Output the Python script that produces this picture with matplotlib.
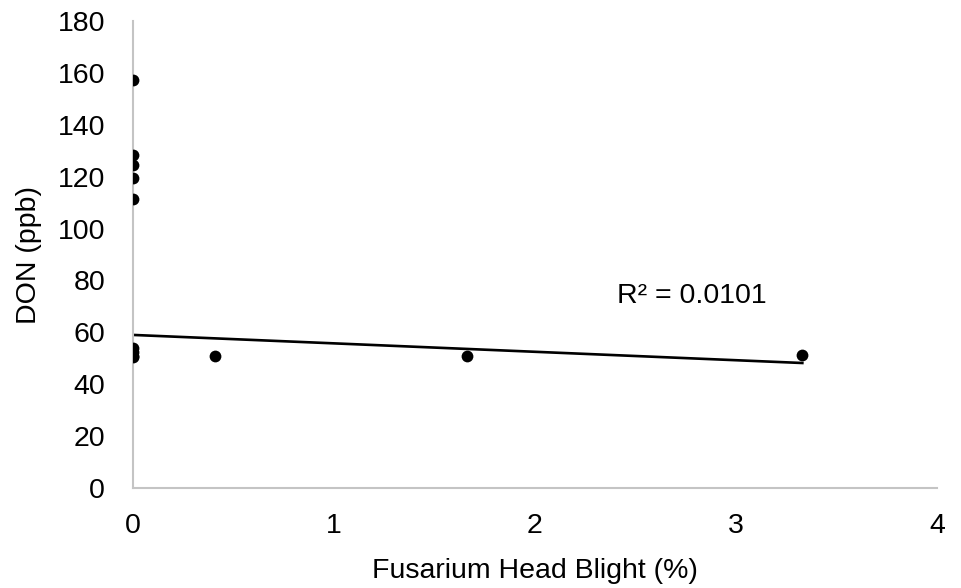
import matplotlib
matplotlib.use("Agg")
import matplotlib.pyplot as plt
import numpy as np

plt.rcParams['font.family'] = ['Liberation Sans', 'DejaVu Sans']

# Data
fhb_pct = [0, 0, 0, 0, 0, 0, 0, 0, 0, 0.41, 1.66, 3.33]
don_ppb = [157.3, 128.4, 124.4, 119.4, 111.5, 54.0, 52.5, 51.0, 50.5, 51.0, 50.7, 51.2]

# Linear trendline (as displayed)
trend_intercept = 59.0
trend_slope = -3.25
r_squared_label = "R² = 0.0101"

x_ticks = [0, 1, 2, 3, 4]
y_ticks = list(range(0, 181, 20))
x_label = "Fusarium Head Blight (%)"
y_label = "DON (ppb)"

fig = plt.figure(figsize=(9.61, 5.88), dpi=100)
ax = fig.add_axes([133/961, 1-488/588, (937-133)/961, (488-21)/588])

ax.scatter(fhb_pct, don_ppb, s=72, color='black', zorder=3, linewidths=0)

xs = np.array([min(fhb_pct), max(fhb_pct)])
ax.plot(xs, trend_intercept + trend_slope*xs, color='black', lw=1.9, zorder=2)

ax.text(2.41, 74, r_squared_label, fontsize=20.5, va='center', ha='left')

ax.set_xlim(0, 4)
ax.set_ylim(0, 180)
ax.set_xticks(x_ticks)
ax.set_yticks(y_ticks)
ax.tick_params(axis='both', length=0, labelsize=20.5)
ax.tick_params(axis='y', pad=20)
ax.tick_params(axis='x', pad=18)
for s in ['top', 'right']:
    ax.spines[s].set_visible(False)
for s in ['left', 'bottom']:
    ax.spines[s].set_color('#C4C4C4')
    ax.spines[s].set_linewidth(1.5)

ax.set_xlabel(x_label, fontsize=20.5, labelpad=14)
ax.set_ylabel(y_label, fontsize=20.5)
ax.yaxis.set_label_coords(-0.113, 0.5)

fig.savefig("out.png", dpi=100)
